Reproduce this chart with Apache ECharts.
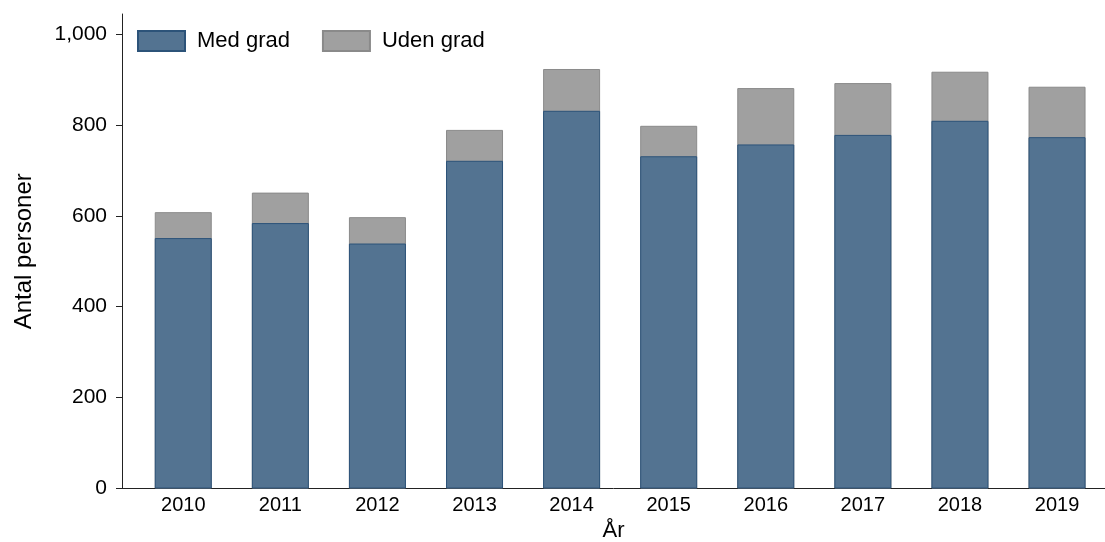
<!DOCTYPE html>
<html>
<head>
<meta charset="utf-8">
<script src="https://cdn.jsdelivr.net/npm/echarts@6/dist/echarts.min.js"></script>
<style>
html,body{margin:0;padding:0;background:#fff;overflow:hidden;}
#c{width:1105px;height:542px;}
</style>
</head>
<body>
<div id="c"></div>
<script>
var years = [2010, 2011, 2012, 2013, 2014, 2015, 2016, 2017, 2018, 2019];
var medGrad = [551, 584, 539, 721, 831, 731, 757, 778, 809, 773];
var udenGrad = [57, 67, 58, 68, 92, 67, 124, 114, 108, 111];
var yTicks = [0, 200, 400, 600, 800, 1000];

var chart = echarts.init(document.getElementById('c'), null, {renderer: 'canvas'});
var FONT = 'Liberation Sans, Arial, sans-serif';
// grey bar drawn as full stack height (med + uden), blue drawn over its lower part
var medPairs = years.map(function (y, i) { return [y, medGrad[i]]; });
var totalPairs = years.map(function (y, i) { return [y, medGrad[i] + udenGrad[i]]; });

chart.setOption({
  animation: false,
  backgroundColor: '#ffffff',
  textStyle: {fontFamily: FONT},
  grid: {left: 122, right: 0, top: 14, bottom: 53.5, containLabel: false, outerBoundsMode: 'none'},
  legend: {
    left: 132, top: 25,
    itemWidth: 47, itemHeight: 20, itemGap: 32,
    icon: 'rect',
    textStyle: {fontFamily: FONT, fontSize: 22, color: '#000', padding: [0, 0, 0, 7]},
    data: ['Med grad', 'Uden grad']
  },
  xAxis: {
    type: 'value',
    min: 2009.369, max: 2019.494,
    name: 'År', nameLocation: 'middle', nameGap: 29,
    nameTextStyle: {fontFamily: FONT, fontSize: 22, color: '#000'},
    axisLine: {show: true, lineStyle: {color: '#222', width: 1}},
    axisTick: {show: false},
    splitLine: {show: false},
    axisLabel: {customValues: years, fontFamily: FONT, fontSize: 20, color: '#000', margin: 7,
      formatter: function (v) { return String(v); }}
  },
  yAxis: {
    type: 'value',
    min: 0, max: 1044, interval: 200,
    name: 'Antal personer', nameLocation: 'middle', nameGap: 86,
    nameTextStyle: {fontFamily: FONT, fontSize: 24, color: '#000'},
    axisLine: {show: true, lineStyle: {color: '#222', width: 1}},
    axisTick: {show: true, length: 6, customValues: yTicks, lineStyle: {color: '#222'}},
    splitLine: {show: false},
    axisLabel: {customValues: yTicks, fontFamily: FONT, fontSize: 21, color: '#000', margin: 15}
  },
  series: [
    {
      name: 'Uden grad', type: 'bar', barWidth: 57, barGap: '-100%', z: 1,
      itemStyle: {color: '#a0a0a0', borderColor: '#8a8a8a', borderWidth: 1},
      data: totalPairs
    },
    {
      name: 'Med grad', type: 'bar', barWidth: 57, barGap: '-100%', z: 2,
      itemStyle: {color: '#537391', borderColor: '#2c5379', borderWidth: 1},
      data: medPairs
    }
  ]
});
</script>
</body>
</html>
